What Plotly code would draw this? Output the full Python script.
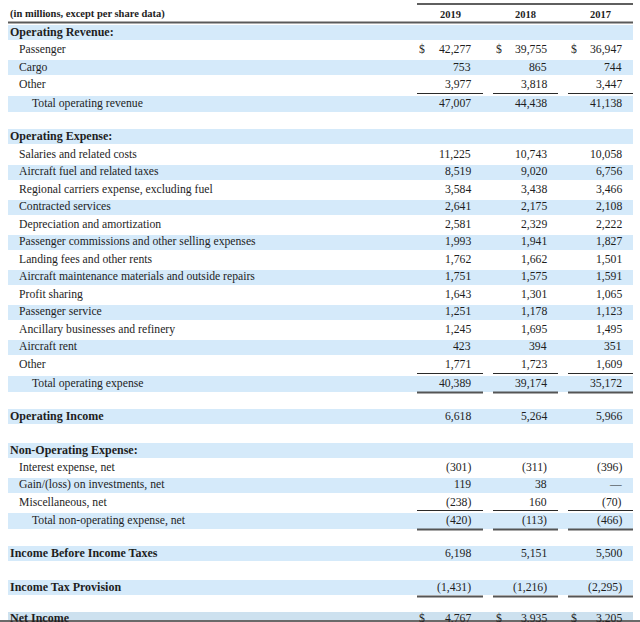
import plotly.graph_objects as go

# ---------------- data ----------------
labels = [
    "(in millions, except per share data)", "Operating Revenue:", "Passenger", "Cargo", "Other",
    "Total operating revenue", "", "Operating Expense:", "Salaries and related costs",
    "Aircraft fuel and related taxes", "Regional carriers expense, excluding fuel",
    "Contracted services", "Depreciation and amortization",
    "Passenger commissions and other selling expenses", "Landing fees and other rents",
    "Aircraft maintenance materials and outside repairs", "Profit sharing", "Passenger service",
    "Ancillary businesses and refinery", "Aircraft rent", "Other", "Total operating expense", "",
    "Operating Income", "", "Non-Operating Expense:", "Interest expense, net",
    "Gain/(loss) on investments, net", "Miscellaneous, net", "Total non-operating expense, net", "",
    "Income Before Income Taxes", "", "Income Tax Provision", "", "Net Income",
]
kinds = (["top", "head", "item", "item", "item", "total", "blank", "head"] + ["item"] * 13 +
         ["total", "blank", "head", "blank", "head", "item", "item", "item", "total", "blank",
          "head", "blank", "head", "blank", "head"])
years = ["2019", "2018", "2017"]
v2019 = [None, None, 42277, 753, 3977, 47007, None, None, 11225, 8519, 3584, 2641, 2581, 1993,
         1762, 1751, 1643, 1251, 1245, 423, 1771, 40389, None, 6618, None, None, -301, 119, -238,
         -420, None, 6198, None, -1431, None, 4767]
v2018 = [None, None, 39755, 865, 3818, 44438, None, None, 10743, 9020, 3438, 2175, 2329, 1941,
         1662, 1575, 1301, 1178, 1695, 394, 1723, 39174, None, 5264, None, None, -311, 38, 160,
         -113, None, 5151, None, -1216, None, 3935]
v2017 = [None, None, 36947, 744, 3447, 41138, None, None, 10058, 6756, 3466, 2108, 2222, 1827,
         1501, 1591, 1065, 1123, 1495, 351, 1609, 35172, None, 5966, None, None, -396, 0, -70,
         -466, None, 5500, None, -2295, None, 3205]
dollar_rows = ["Passenger", "Net Income"]
rule_above = ["Total operating revenue", "Total operating expense", "Total non-operating expense, net"]
rule_below = ["Total operating expense", "Total non-operating expense, net", "Income Tax Provision"]

# ---------------- layout params ----------------
W, H = 640, 622
FONT = "Liberation Serif"
TXT = "#1e1e1e"
BAND = "#d5eafa"
BAND_LAST = "#cde1ef"
X_LEFT, X_RIGHT = 8, 633
indent = {"top": 8, "head": 8, "item": 17, "total": 30, "blank": 8}
col_left = [417, 493, 568]
col_right = [483, 558, 633]
num_right = [473, 549, 624]
dollar_x = [417, 494, 569]
SZ_ITEM, SZ_HEAD, SZ_TOP = 11.7, 12.0, 10.5

# row spacing (pixels between consecutive row centres)
first_row_y = 14.0
row_gap = ([18, 17.5, 17.5, 17.5, 18.5, 16.5, 16.5, 18] + [17.5] * 12 +
           [19, 16.5, 16.5, 17, 17, 17, 17.5, 17.5, 18, 16.5, 16.5, 17, 17, 16, 15])
ys = [first_row_y]
for g in row_gap:
    ys.append(ys[-1] + g)


def fmt(v):
    if v is None:
        return ""
    if v == 0:
        return "—"
    if v < 0:
        return "({:,})".format(-v)
    return "{:,}".format(v)


fig = go.Figure()

# alternating bands (odd rows)
last = len(labels) - 1
band_rows = [i for i in range(1, len(labels)) if i % 2 == 1]
band_h = [24.0 if i == last else (16.0 if kinds[i] == "total" else 15.0) for i in band_rows]
band_y = [ys[i] + (6.0 if i == last else 0.8) for i in band_rows]
fig.add_trace(go.Bar(
    y=band_y, x=[X_RIGHT - X_LEFT] * len(band_rows), base=X_LEFT,
    width=band_h, orientation="h",
    marker=dict(color=[BAND_LAST if i == last else BAND for i in band_rows], line=dict(width=0)),
    hoverinfo="skip", showlegend=False))

ann = []
# labels
for i, (lab, k) in enumerate(zip(labels, kinds)):
    if not lab:
        continue
    if k == "top":
        f = dict(family=FONT, size=SZ_TOP, color=TXT, weight="bold")
    elif k == "head":
        f = dict(family=FONT, size=SZ_HEAD, color=TXT, weight="bold")
    else:
        f = dict(family=FONT, size=SZ_ITEM, color=TXT)
    ann.append(dict(x=indent[k], y=ys[i], xref="x", yref="y", text=lab, showarrow=False,
                    xanchor="left", yanchor="middle", font=f))

# year headers
for c, yr in enumerate(years):
    ann.append(dict(x=(col_left[c] + col_right[c]) / 2, y=ys[0], xref="x", yref="y", text=yr,
                    showarrow=False, xanchor="center", yanchor="middle",
                    font=dict(family=FONT, size=SZ_TOP, color=TXT, weight="bold")))

# values
for c, vals in enumerate([v2019, v2018, v2017]):
    for i, v in enumerate(vals):
        s = fmt(v)
        if not s:
            continue
        ann.append(dict(x=num_right[c], y=ys[i], xref="x", yref="y", text=s, showarrow=False,
                        xanchor="right", yanchor="middle",
                        font=dict(family=FONT, size=SZ_ITEM, color=TXT)))
        if labels[i] in dollar_rows:
            ann.append(dict(x=dollar_x[c], y=ys[i], xref="x", yref="y", text="$",
                            showarrow=False, xanchor="left", yanchor="middle",
                            font=dict(family=FONT, size=SZ_ITEM, color=TXT)))

shapes = []
# top rule over the years and header rule
shapes.append(dict(type="line", xref="x", yref="y", x0=col_left[0], x1=col_right[2], y0=4, y1=4,
                   line=dict(color="#2a2a2a", width=1.5)))
shapes.append(dict(type="line", xref="x", yref="y", x0=X_LEFT, x1=X_RIGHT, y0=22.5, y1=22.5,
                   line=dict(color="#5a5a5a", width=2)))
for i, lab in enumerate(labels):
    for c in range(3):
        if lab in rule_above:
            shapes.append(dict(type="line", xref="x", yref="y", x0=col_left[c], x1=col_right[c],
                               y0=ys[i] - 9.5, y1=ys[i] - 9.5, line=dict(color="#2a2a2a", width=1.2)))
        if lab in rule_below:
            shapes.append(dict(type="line", xref="x", yref="y", x0=col_left[c], x1=col_right[c],
                               y0=ys[i] + 9.5, y1=ys[i] + 9.5, line=dict(color="#555555", width=2)))
# bottom edge of the screenshot
shapes.append(dict(type="line", xref="paper", yref="y", x0=0, x1=1, y0=621, y1=621,
                   line=dict(color="#6a6a6a", width=2)))

fig.update_layout(
    width=W, height=H, margin=dict(l=0, r=0, t=0, b=0),
    paper_bgcolor="white", plot_bgcolor="white",
    xaxis=dict(range=[0, W], visible=False, fixedrange=True),
    yaxis=dict(range=[H, 0], visible=False, fixedrange=True),
    annotations=ann, shapes=shapes, bargap=0,
)
fig.write_html("out.html", config={"displayModeBar": False},
               post_script="document.body.style.margin='0px';document.body.style.overflow='hidden';")
